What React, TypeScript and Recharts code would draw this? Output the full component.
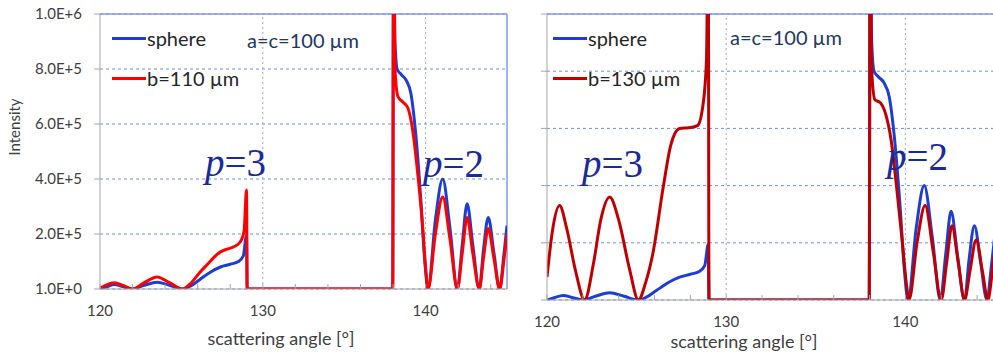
import { LineChart, Line, XAxis, YAxis, CartesianGrid, ReferenceLine, Legend } from 'recharts';

// scattering angle [deg] and intensity
const sphereAngle = [
  120.0, 120.4, 120.9, 121.4, 122.0, 122.7, 123.5, 124.3, 125.1, 125.6, 126.1, 126.8, 127.4,
  128.0, 128.5, 128.8, 129.0, 129.04, 137.98, 138.03, 138.12, 138.25, 138.5, 138.8, 139.1,
  139.4, 139.7, 139.95, 140.15, 140.6, 141.05, 141.5, 141.95, 142.25, 142.55, 142.9, 143.3,
  143.55, 143.85, 144.2, 144.55, 144.8, 145.0,
];
const sphereIntensity = [
  0, 8e3, 1.6e4, 9e3, 0, 1.3e4, 2.5e4, 1.3e4, 0, 1.2e4, 3.3e4, 6.2e4, 8.0e4,
  9.0e4, 1.0e5, 1.2e5, 1.95e5, 0, 0, 1.3e6, 9.0e5, 8.0e5, 7.8e5, 7.6e5, 7.1e5,
  5.6e5, 3.3e5, 1.0e5, 0, 2.5e5, 4.0e5, 2.2e5, 0, 1.6e5, 3.1e5, 1.6e5, 0,
  1.4e5, 2.6e5, 1.3e5, 0, 1.2e5, 2.3e5,
];

const b110Angle = [
  120.0, 120.4, 120.9, 121.4, 122.0, 122.7, 123.5, 124.3, 125.1, 125.6, 126.1, 126.6, 127.0,
  127.4, 127.8, 128.2, 128.6, 128.85, 129.0, 129.04, 137.98, 138.03, 138.12, 138.3, 138.6,
  138.9, 139.2, 139.5, 139.8, 140.0, 140.15, 140.6, 141.05, 141.5, 141.95, 142.25, 142.55,
  142.9, 143.3, 143.55, 143.85, 144.2, 144.55, 144.8, 145.0,
];
const b110Intensity = [
  3e3, 1.5e4, 2.3e4, 1.3e4, 0, 2.2e4, 4.4e4, 2.2e4, 0, 2.2e4, 5.8e4, 9.0e4, 1.15e5,
  1.35e5, 1.45e5, 1.53e5, 1.7e5, 2.1e5, 3.6e5, 0, 0, 1.3e6, 8.0e5, 7.0e5, 6.8e5,
  6.6e5, 5.8e5, 4.3e5, 2.4e5, 8e4, 0, 2.0e5, 3.35e5, 1.8e5, 0, 1.3e5, 2.6e5,
  1.3e5, 0, 1.1e5, 2.2e5, 1.1e5, 0, 1.0e5, 2.0e5,
];

const b130Angle = [
  120.0, 120.3, 120.7, 121.1, 121.6, 122.1, 122.6, 123.0, 123.5, 124.0, 124.6, 125.1, 125.5,
  125.9, 126.5, 126.9, 127.4, 127.9, 128.4, 128.7, 128.9, 129.0, 129.04, 137.98, 138.03,
  138.12, 138.3, 138.6, 138.9, 139.2, 139.5, 139.8, 140.05, 140.2, 140.65, 141.1, 141.55,
  142.0, 142.3, 142.6, 142.95, 143.3, 143.6, 143.95, 144.3, 144.6, 144.85, 145.0,
];
const b130Intensity = [
  8e4, 2.4e5, 3.3e5, 2.5e5, 1.0e5, 0, 1.3e5, 2.8e5, 3.6e5, 2.8e5, 1.1e5, 0, 6e4,
  1.6e5, 4.0e5, 5.4e5, 6.0e5, 6.02e5, 6.1e5, 6.8e5, 8.4e5, 1.3e6, 0, 0, 1.3e6,
  8.0e5, 7.0e5, 6.9e5, 6.5e5, 5.6e5, 4.0e5, 2.2e5, 6e4, 0, 2.0e5, 3.3e5, 1.7e5,
  0, 1.3e5, 2.6e5, 1.3e5, 0, 1.0e5, 2.1e5, 1.0e5, 0, 1.0e5, 1.8e5,
];

const angleTicks = [120, 122, 124, 126, 128, 130, 132, 134, 136, 138, 140, 142, 144];
const intensityTicks = [0, 2e5, 4e5, 6e5, 8e5, 1e6];

const toPoints = (xs: number[], ys: number[]) => xs.map((angle, i) => ({ angle, intensity: ys[i] }));

const sphere = toPoints(sphereAngle, sphereIntensity);
const b110 = toPoints(b110Angle, b110Intensity);
const b130 = toPoints(b130Angle, b130Intensity);

const BLUE = '#1D3ED2';
const SANS = 'Lato, "Open Sans", sans-serif';
const AXIS = '#A6A6A6';
const GRID = '#6F8FE8';

const sciLabel = (v: number) => {
  if (v === 0) return '1.0E+0';
  const e = Math.floor(Math.log10(v));
  return `${(v / Math.pow(10, e)).toFixed(1)}E+${e}`;
};

const angleLabel = (v: number) => (v % 10 === 0 ? String(v) : '');

// sphere first, like the original legend
const renderLegend = (props: any) => {
  const items = [...(props.payload || [])].sort((a: any, b: any) =>
    a.value === 'sphere' ? -1 : b.value === 'sphere' ? 1 : 0
  );
  return (
    <div style={{ fontFamily: SANS, fontSize: 20, color: '#262626' }}>
      {items.map((p: any) => (
        <div key={p.value} style={{ display: 'flex', alignItems: 'center', height: 40 }}>
          <span style={{ display: 'inline-block', width: 34, height: 3, background: p.color }} />
          <span style={{ marginLeft: 1 }}>{p.value}</span>
        </div>
      ))}
    </div>
  );
};

const Panel = ({ red, redName, redColor, width, right, yLabels }: any) => (
  <LineChart width={width} height={354} margin={{ top: 14, right, left: 0, bottom: 0 }}>
    <CartesianGrid vertical={false} stroke={GRID} strokeDasharray="3 3" />
    <ReferenceLine x={130} stroke="#A8A8A8" strokeDasharray="2 3" />
    <ReferenceLine x={140} stroke="#A8A8A8" strokeDasharray="2 3" />
    <ReferenceLine y={1e6} stroke="#7F9BEA" strokeWidth={1.5} />
    {right > 0 && <ReferenceLine x={145} stroke="#7F9BEA" strokeWidth={1.5} />}
    <XAxis
      dataKey="angle"
      type="number"
      domain={[120, 145]}
      ticks={angleTicks}
      tickFormatter={angleLabel}
      allowDataOverflow
      height={yLabels ? 65 : 54}
      tickSize={-5}
      tickMargin={21}
      stroke={AXIS}
      tick={{ fontSize: 15, fill: '#404040', fontFamily: SANS }}
    />
    <YAxis
      type="number"
      domain={[0, 1e6]}
      ticks={intensityTicks}
      tickFormatter={yLabels ? sciLabel : () => ''}
      allowDataOverflow
      width={yLabels ? 100 : 47}
      tickSize={6}
      tickMargin={12}
      stroke={AXIS}
      tick={{ fontSize: 15, fill: '#404040', fontFamily: SANS }}
    />
    <Legend
      verticalAlign="middle"
      align="center"
      content={renderLegend}
      wrapperStyle={{ left: yLabels ? 112 : 53, top: 18, width: 'auto' }}
    />
    <Line data={sphere} dataKey="intensity" name="sphere" type="monotone" stroke={BLUE} strokeWidth={3} dot={false} isAnimationActive={false} />
    <Line data={red} dataKey="intensity" name={redName} type="monotone" stroke={redColor} strokeWidth={3} dot={false} isAnimationActive={false} />
  </LineChart>
);

const Pee = ({ x, y, n }: { x: number; y: number; n: number }) => (
  <text x={x} y={y} fontFamily='"Liberation Serif", serif' fontSize={39} fill="#1B2A9A">
    <tspan fontStyle="italic">p</tspan>={n}
  </text>
);

export default function App() {
  return (
    <div style={{ position: 'absolute', left: 0, top: 0, width: 993, height: 354, overflow: 'hidden', background: '#fff' }}>
      <div style={{ position: 'absolute', left: 0, top: 0 }}>
        <Panel red={b110} redName="b=110 µm" redColor="#FF0000" width={519} right={12} yLabels />
      </div>
      <div style={{ position: 'absolute', left: 500, top: 0 }}>
        <Panel red={b130} redName="b=130 µm" redColor="#C00000" width={495} right={0} yLabels={false} />
      </div>
      <svg width={993} height={354} style={{ position: 'absolute', left: 0, top: 0, pointerEvents: 'none' }}>
        <text x={20} y={127} transform="rotate(-90 20 127)" textAnchor="middle" fontFamily={SANS} fontSize={15} fill="#404040">Intensity</text>
        <text x={281} y={345} textAnchor="middle" fontFamily={SANS} fontSize={18} fill="#404040">scattering angle [°]</text>
        <text x={744} y={348} textAnchor="middle" fontFamily={SANS} fontSize={18} fill="#404040">scattering angle [°]</text>
        <text x={247} y={48} fontFamily={SANS} fontSize={20} fill="#203864">a=c=100 µm</text>
        <text x={730} y={45} fontFamily={SANS} fontSize={20} fill="#203864">a=c=100 µm</text>
        <Pee x={205} y={176} n={3} />
        <Pee x={423} y={177} n={2} />
        <Pee x={582} y={177} n={3} />
        <Pee x={887} y={170} n={2} />
      </svg>
    </div>
  );
}
